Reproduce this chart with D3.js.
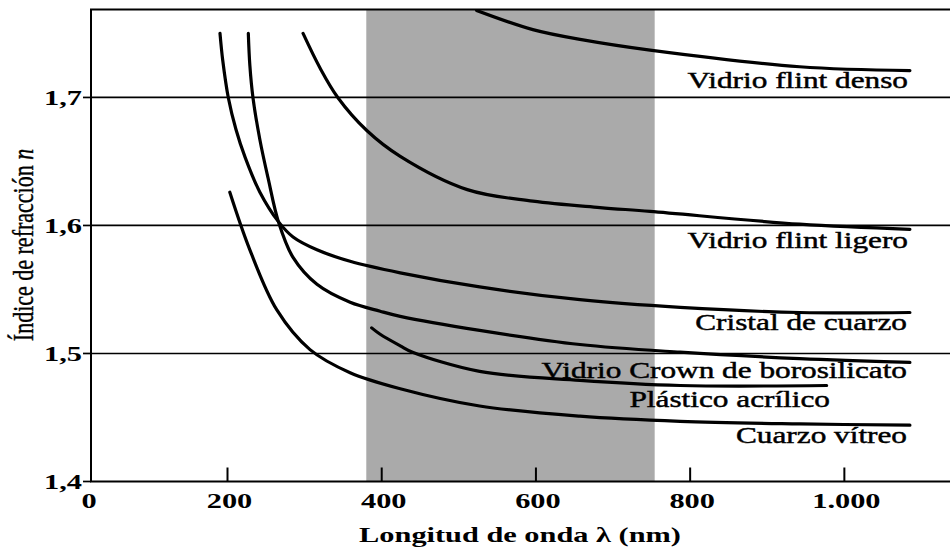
<!DOCTYPE html>
<html>
<head>
<meta charset="utf-8">
<script src="https://cdn.jsdelivr.net/npm/d3@7"></script>
<style>
  html, body { margin: 0; padding: 0; background: #fff; }
  svg { display: block; }
  text { font-family: "Liberation Serif", "Times New Roman", serif; fill: #000; }
</style>
</head>
<body>
<svg width="950" height="549"></svg>
<script>
// wavelength (nm) and refractive index
const flintDensoNm = [523, 596, 661, 748, 942, 1085];
const flintDensoN = [1.768, 1.753, 1.745, 1.737, 1.724, 1.721];

const flintLigeroNm = [298, 320, 343, 381, 424, 511, 596, 683, 748, 942, 1085];
const flintLigeroN = [1.750, 1.723, 1.700, 1.674, 1.654, 1.628, 1.619, 1.614, 1.611, 1.601, 1.597];

const cuarzoCristalNm = [189, 193, 201, 211, 223, 242, 266, 285, 316, 359, 424, 527, 657, 787, 942, 1085];
const cuarzoCristalN = [1.750, 1.729, 1.700, 1.675, 1.653, 1.626, 1.603, 1.591, 1.581, 1.572, 1.563, 1.552, 1.542, 1.536, 1.532, 1.532];

const crownNm = [227, 229, 233, 242, 253, 266, 285, 316, 359, 398, 424, 527, 657, 787, 942, 1085];
const crownN = [1.750, 1.725, 1.700, 1.667, 1.636, 1.603, 1.575, 1.554, 1.540, 1.533, 1.529, 1.518, 1.507, 1.501, 1.496, 1.493];

const acrilicoNm = [387, 398, 424, 440, 527, 657, 787, 977];
const acrilicoN = [1.520, 1.515, 1.506, 1.501, 1.486, 1.479, 1.475, 1.475];

const vitreoNm = [203, 229, 264, 307, 359, 424, 527, 657, 787, 942, 1085];
const vitreoN = [1.626, 1.581, 1.534, 1.503, 1.485, 1.4725, 1.459, 1.451, 1.447, 1.445, 1.444];

const labels = ["Vidrio flint denso", "Vidrio flint ligero", "Cristal de cuarzo",
  "Vidrio Crown de borosilicato", "Plástico acrílico", "Cuarzo vítreo"];

const visibleBand = [380, 754];
const xTicks = [200, 400, 600, 800, 1000];
const xTickLabels = ["200", "400", "600", "800", "1.000"];
const yTicks = [1.4, 1.5, 1.6, 1.7];
const yTickLabels = ["1,4", "1,5", "1,6", "1,7"];

const series = [
  [flintDensoNm, flintDensoN],
  [flintLigeroNm, flintLigeroN],
  [cuarzoCristalNm, cuarzoCristalN],
  [crownNm, crownN],
  [acrilicoNm, acrilicoN],
  [vitreoNm, vitreoN]
].map(([xs, ys], i) => ({ name: labels[i], values: xs.map((d, j) => ({ nm: d, n: ys[j] })) }));

const svg = d3.select("svg");
const plotLeft = 91, plotRight = 950, plotTop = 9.5, plotBottom = 481.5;

// origin "0" sits at the axis corner, the rest of the axis is linear
const x = d3.scaleLinear().domain([0, 200, 1137]).range([plotLeft, 227.5, plotRight]);
const y = d3.scaleLinear().domain([1.4, 1.7687]).range([plotBottom, plotTop]);

svg.append("defs").append("clipPath").attr("id", "plot")
  .append("rect").attr("x", plotLeft).attr("y", plotTop)
  .attr("width", plotRight - plotLeft).attr("height", plotBottom - plotTop);

svg.append("rect")
  .attr("x", x(visibleBand[0]))
  .attr("y", plotTop)
  .attr("width", x(visibleBand[1]) - x(visibleBand[0]))
  .attr("height", plotBottom - plotTop)
  .attr("fill", "#aaaaaa");

// horizontal grid lines
svg.append("g").selectAll("line")
  .data(yTicks.slice(1))
  .join("line")
  .attr("x1", plotLeft).attr("x2", plotRight)
  .attr("y1", d => y(d)).attr("y2", d => y(d))
  .attr("stroke", "#000").attr("stroke-width", 1.7);

// frame
svg.append("path")
  .attr("d", `M${plotRight},${plotTop}H${plotLeft}V${plotBottom}H${plotRight}`)
  .attr("fill", "none").attr("stroke", "#000").attr("stroke-width", 2);

// x ticks point inward
svg.append("g").selectAll("line")
  .data(xTicks)
  .join("line")
  .attr("x1", d => x(d)).attr("x2", d => x(d))
  .attr("y1", plotBottom).attr("y2", plotBottom - 14)
  .attr("stroke", "#000").attr("stroke-width", 2);

// y ticks point outward
svg.append("g").selectAll("line")
  .data(yTicks)
  .join("line")
  .attr("x1", plotLeft - 8).attr("x2", plotLeft)
  .attr("y1", d => y(d)).attr("y2", d => y(d))
  .attr("stroke", "#000").attr("stroke-width", 1.7);

// the scanned figure is stretched sideways, so text is widened too
function stretchedText(px, py, str, anchor, size, weight, sx) {
  return svg.append("text")
    .attr("transform", `translate(${px},${py}) scale(${sx},1)`)
    .attr("text-anchor", anchor)
    .attr("font-size", size)
    .attr("font-weight", weight)
    .text(str);
}

xTicks.forEach((d, i) => stretchedText(x(d) + 2, 508, xTickLabels[i], "middle", 22, "bold", 1.38));
stretchedText(x(0) - 2, 508, "0", "middle", 22, "bold", 1.38);
yTicks.forEach((d, i) => stretchedText(plotLeft - 9, y(d) + 7.5, yTickLabels[i], "end", 22, "bold", 1.38));

stretchedText(520, 542, "Longitud de onda λ (nm)", "middle", 22, "bold", 1.38);

const yTitle = svg.append("text")
  .attr("transform", "translate(33,245) scale(1.38,1) rotate(-90)")
  .attr("text-anchor", "middle")
  .attr("font-size", 22)
  .attr("stroke", "#000").attr("stroke-width", 0.3);
yTitle.append("tspan").text("Índice de refracción ");
yTitle.append("tspan").attr("font-style", "italic").text("n");

const line = d3.line()
  .x(d => x(d.nm))
  .y(d => y(d.n))
  .curve(d3.curveCatmullRom.alpha(0.5));

svg.append("g").attr("clip-path", "url(#plot)")
  .selectAll("path")
  .data(series)
  .join("path")
  .attr("fill", "none")
  .attr("stroke", "#000")
  .attr("stroke-width", 3.2)
  .attr("stroke-linecap", "round")
  .attr("d", d => line(d.values));

// curve labels, right aligned under each curve end
const labelPos = [[908, 88], [908, 248], [907, 330], [907, 378], [830, 407], [907, 443]];
labels.forEach((t, i) => stretchedText(labelPos[i][0], labelPos[i][1], t, "end", 23, "normal", 1.36)
  .attr("stroke", "#000").attr("stroke-width", 0.45));
</script>
</body>
</html>
